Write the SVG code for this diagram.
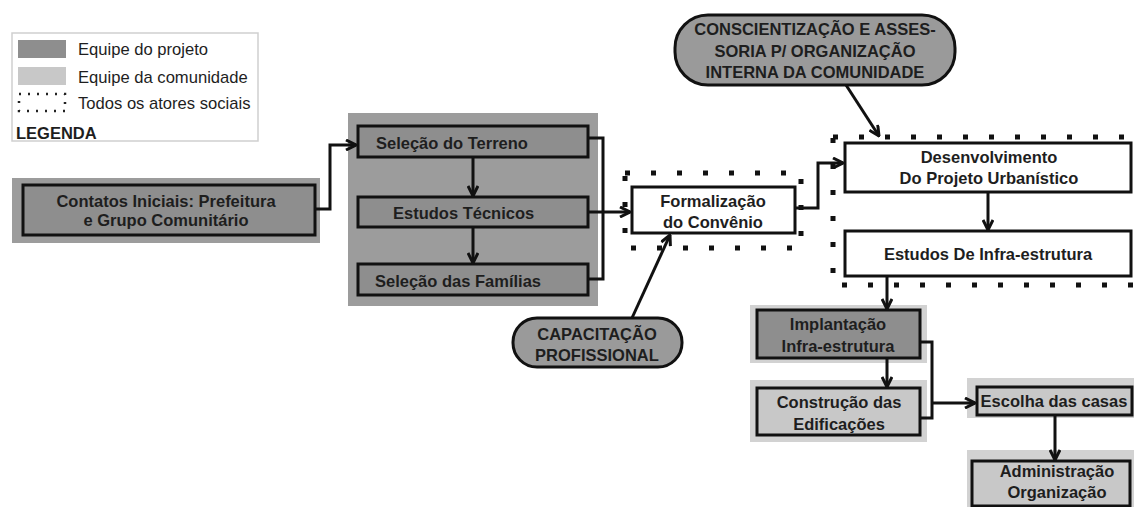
<svg xmlns="http://www.w3.org/2000/svg" width="1134" height="507" viewBox="0 0 1134 507">
  <style>
    text { font-family: "Liberation Sans", Arial, sans-serif; fill: #1e1e1e; }
    .t { font-size: 16.5px; font-weight: bold; text-anchor: middle; }
    .lg { font-size: 16.6px; }
    .box { stroke: #111; stroke-width: 3; }
    .white { fill: #fff; }
    .dark { fill: #8e8e8e; }
    .light { fill: #c8c8c8; }
    .bgdark { fill: #9c9c9c; }
    .bglight { fill: #d2d2d2; }
    .pill { fill: #9a9a9a; stroke: #111; stroke-width: 3; }
    .dots { fill: none; stroke: #111; stroke-width: 5; stroke-dasharray: 5 21; }
    .wire { fill: none; stroke: #111; stroke-width: 3; }
    .arr { fill: none; stroke: #111; stroke-width: 3; marker-end: url(#head); }
  </style>
  <defs>
    <marker id="head" viewBox="0 0 12 12" refX="11" refY="6" markerWidth="12" markerHeight="12" markerUnits="userSpaceOnUse" orient="auto">
      <path d="M1,1 L11,6 L1,11" fill="none" stroke="#111" stroke-width="3"/>
    </marker>
  </defs>

  <rect width="1134" height="507" fill="#fff"/>

  <!-- legend -->
  <g id="legend">
    <rect x="12" y="33" width="246" height="108" fill="#fff" stroke="#cfcfcf" stroke-width="1.5"/>
    <rect x="18" y="40" width="48" height="18" fill="#8e8e8e"/>
    <rect x="18" y="67" width="48" height="18" fill="#c8c8c8"/>
    <rect x="19" y="94" width="46" height="17" fill="none" stroke="#222" stroke-width="2.5" stroke-dasharray="2 7"/>
    <text class="lg" x="78" y="55">Equipe do projeto</text>
    <text class="lg" x="78" y="83">Equipe da comunidade</text>
    <text class="lg" x="78" y="109">Todos os atores sociais</text>
    <text x="16" y="139" font-size="16.5" font-weight="bold">LEGENDA</text>
  </g>

  <!-- project-team backgrounds -->
  <rect x="12" y="178" width="308" height="65" class="bgdark"/>
  <rect x="348" y="113" width="250" height="193" class="bgdark"/>

  <!-- all-actors dotted areas -->
  <rect x="625" y="173" width="176" height="75" class="dots"/>
  <rect x="833" y="137" width="310" height="148" class="dots"/>

  <g id="contatos">
    <rect x="23" y="185" width="292" height="50" class="box dark"/>
    <text class="t" x="166" y="207">Contatos Iniciais: Prefeitura</text>
    <text class="t" x="166" y="226">e Grupo Comunitário</text>
  </g>

  <g id="selecao-terreno">
    <rect x="358" y="126" width="230" height="31" class="box dark"/>
    <text x="376" y="149" font-size="16.5" font-weight="bold">Seleção do Terreno</text>
  </g>

  <g id="estudos-tecnicos">
    <rect x="358" y="197" width="230" height="30" class="box dark"/>
    <text x="393" y="219" font-size="16.5" font-weight="bold">Estudos Técnicos</text>
  </g>

  <g id="selecao-familias">
    <rect x="358" y="264" width="230" height="31" class="box dark"/>
    <text x="375" y="287" font-size="16.5" font-weight="bold">Seleção das Famílias</text>
  </g>

  <g id="formalizacao">
    <rect x="632" y="187" width="163" height="46" class="box white"/>
    <text class="t" x="713" y="207">Formalização</text>
    <text class="t" x="713" y="228">do Convênio</text>
  </g>

  <g id="capacitacao">
    <rect x="513" y="318" width="169" height="49" rx="24" class="pill"/>
    <text class="t" x="597" y="340">CAPACITAÇÃO</text>
    <text class="t" x="597" y="361">PROFISSIONAL</text>
  </g>

  <g id="conscientizacao">
    <rect x="675" y="15" width="280" height="70" rx="33" class="pill"/>
    <text class="t" x="815" y="35">CONSCIENTIZAÇÃO E ASSES-</text>
    <text class="t" x="815" y="57">SORIA P/ ORGANIZAÇÃO</text>
    <text class="t" x="815" y="78">INTERNA DA COMUNIDADE</text>
  </g>

  <g id="desenvolvimento">
    <rect x="845" y="143" width="286" height="49" class="box white"/>
    <text class="t" x="989" y="163">Desenvolvimento</text>
    <text class="t" x="989" y="184">Do Projeto Urbanístico</text>
  </g>

  <g id="estudos-infra">
    <rect x="845" y="231" width="286" height="45" class="box white"/>
    <text class="t" x="988" y="260">Estudos De Infra-estrutura</text>
  </g>

  <g id="implantacao">
    <rect x="750" y="305" width="177" height="58" class="bglight"/>
    <rect x="757" y="310" width="163" height="48" class="box dark"/>
    <text class="t" x="838" y="330">Implantação</text>
    <text class="t" x="838" y="352">Infra-estrutura</text>
  </g>

  <g id="construcao">
    <rect x="750" y="380" width="177" height="62" class="bglight"/>
    <rect x="757" y="388" width="163" height="47" class="box light"/>
    <text class="t" x="839" y="408">Construção das</text>
    <text class="t" x="839" y="430">Edificações</text>
  </g>

  <g id="escolha">
    <rect x="967" y="378" width="167" height="40" class="bglight"/>
    <rect x="977" y="387" width="155" height="28" class="box light"/>
    <text class="t" x="1054" y="407">Escolha das casas</text>
  </g>

  <g id="administracao">
    <rect x="967" y="450" width="167" height="57" class="bglight"/>
    <rect x="972" y="461" width="158" height="45" class="box light"/>
    <text class="t" x="1057" y="477">Administração</text>
    <text class="t" x="1057" y="498">Organização</text>
  </g>

  <g id="connectors">
    <path class="arr" d="M315,209 H330 V145 H356"/>
    <path class="arr" d="M473,157 V196"/>
    <path class="arr" d="M473,227 V263"/>
    <path class="wire" d="M588,138 H603 V279 H588"/>
    <path class="arr" d="M588,212 H630"/>
    <path class="arr" d="M632,318 L670,235"/>
    <path class="arr" d="M795,208 H818 V163 H843"/>
    <path class="arr" d="M846,85 L879,136"/>
    <path class="arr" d="M988,192 V230"/>
    <path class="arr" d="M887,276 V309"/>
    <path class="arr" d="M887,358 V387"/>
    <path class="wire" d="M920,342 H932 V418 H920"/>
    <path class="arr" d="M932,403 H975"/>
    <path class="arr" d="M1055,415 V460"/>
  </g>
</svg>
